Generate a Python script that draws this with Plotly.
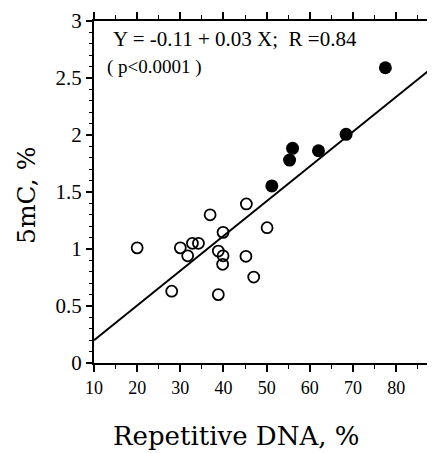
import plotly.graph_objects as go

# Open circles
open_x = [20, 30, 31.7, 32.8, 34.2, 28, 36.9, 45.3, 39.9, 50.1, 38.8, 39.9, 39.8, 45.2, 47.0, 38.8]
open_y = [1.01, 1.01, 0.94, 1.05, 1.05, 0.63, 1.30, 1.395, 1.146, 1.187, 0.982, 0.94, 0.866, 0.936, 0.754, 0.60]
# Filled circles
fill_x = [77.5, 68.4, 62.0, 56.0, 55.3, 51.2]
fill_y = [2.59, 2.006, 1.862, 1.883, 1.78, 1.553]
# Regression line
line_intercept = -0.105
line_slope = 0.0305
line_x = [10, 89]
line_y = [line_intercept + line_slope * v for v in line_x]

x_ticks = [10, 20, 30, 40, 50, 60, 70, 80]
y_ticks = [0, 0.5, 1, 1.5, 2, 2.5, 3]
y_tick_labels = ["0", "0.5", "1", "1.5", "2", "2.5", "3"]

FONT = "Liberation Serif"
TFONT = "DejaVu Serif"

# page body has an 8px margin: the plot area is placed so that in the window
# it spans x 94..435 and y 21..363
PL, PT, PW, PH = 94, 21, 341, 342


def px(x):
    return (x - PL) / PW


def py(y):
    return (PT + PH - y) / PH


fig = go.Figure()
fig.add_trace(go.Scatter(x=line_x, y=line_y, mode="lines",
                         line=dict(color="black", width=2), showlegend=False))
fig.add_trace(go.Scatter(x=open_x, y=open_y, mode="markers",
                         marker=dict(symbol="circle-open", size=11, color="black",
                                     line=dict(width=1.8, color="black")),
                         showlegend=False))
fig.add_trace(go.Scatter(x=fill_x, y=fill_y, mode="markers",
                         marker=dict(symbol="circle", size=13, color="black"),
                         showlegend=False))

fig.update_layout(
    width=427, height=445,
    margin=dict(l=86, r=0, t=13, b=90),
    plot_bgcolor="white", paper_bgcolor="white",
    font=dict(family=FONT, color="black"),
    xaxis=dict(range=[10, 89], tickvals=x_ticks, ticks="outside", ticklen=7,
               tickwidth=1.5, tickcolor="black", showline=True, linewidth=2,
               linecolor="black", mirror="ticks", showgrid=False, zeroline=False,
               tickfont=dict(size=18, family=FONT),
               minor=dict(dtick=5, tick0=10, ticks="outside", ticklen=4,
                          tickwidth=1.2, tickcolor="black")),
    yaxis=dict(range=[0, 3], tickvals=y_ticks, ticktext=y_tick_labels,
               ticks="outside", ticklen=6, tickwidth=1.5, tickcolor="black",
               showline=True, linewidth=2, linecolor="black", showgrid=False,
               zeroline=False, tickfont=dict(size=21, family=FONT),
               minor=dict(dtick=0.1, tick0=0, ticks="outside", ticklen=3,
                          tickwidth=1.2, tickcolor="black")),
    annotations=[
        dict(text="Y = -0.11 + 0.03 X;  R =0.84", xref="paper", yref="paper",
             x=px(111), y=py(39), xanchor="left", yanchor="middle",
             showarrow=False, font=dict(size=21, family=FONT)),
        dict(text="( p<0.0001 )", xref="paper", yref="paper",
             x=px(105), y=py(67), xanchor="left", yanchor="middle",
             showarrow=False, font=dict(size=19, family=FONT)),
        dict(text="5mC, %", xref="paper", yref="paper",
             x=px(26), y=py(195), xanchor="center", yanchor="middle",
             textangle=-90, showarrow=False, font=dict(size=25, family=TFONT)),
        dict(text="Repetitive DNA, %", xref="paper", yref="paper",
             x=px(236), y=py(436), xanchor="center", yanchor="middle",
             showarrow=False, font=dict(size=26, family=TFONT)),
    ],
)

fig.write_html("out.html")
